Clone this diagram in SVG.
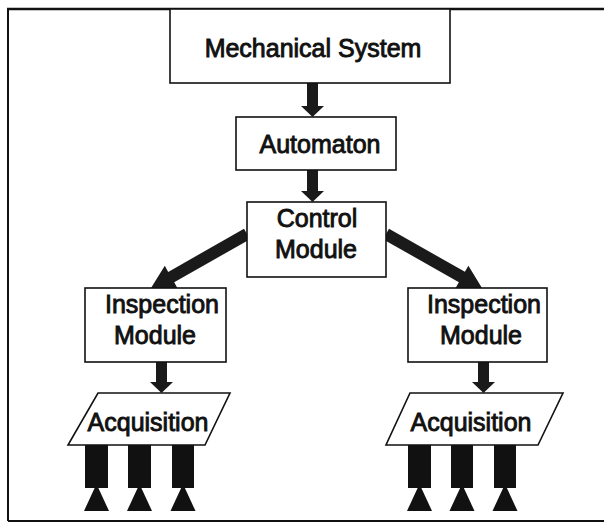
<svg xmlns="http://www.w3.org/2000/svg" width="604" height="524" viewBox="0 0 604 524">
<style>
.box{fill:#fff;stroke:#111;stroke-width:1.6}
.lbl{font-family:"Liberation Sans",Arial,sans-serif;font-size:25px;fill:#111;stroke:#111;stroke-width:0.9;text-anchor:middle}
.arr{fill:#1a1a1a}
.sens{fill:#111}
.frame{stroke:#111;fill:none}
</style>
<rect width="604" height="524" fill="#fff"/>
<g id="frame">
<line class="frame" x1="7" y1="9" x2="604" y2="9" stroke-width="2.5"/>
<line class="frame" x1="8" y1="9" x2="8" y2="521" stroke-width="2"/>
<line class="frame" x1="8" y1="521" x2="604" y2="521" stroke-width="2"/>
</g>
<g id="connectors">
<polygon class="arr" points="307,83 318,83 318,106 324,106 312.5,117 301,106 307,106"/>
<polygon class="arr" points="307,170 318,170 318,191 324,191 312.5,202 301,191 307,191"/>
<polygon class="arr" points="244,228.8 168.2,271.9 164.8,265.8 151,288 177.6,288.4 174.2,282.3 250,239.2"/>
<polygon class="arr" points="389,228.8 464.9,271.8 468.4,265.7 482,288 455.4,288.3 458.9,282.2 383,239.2"/>
<polygon class="arr" points="156,362 167,362 167,382 173,382 161.5,393 150,382 156,382"/>
<polygon class="arr" points="478,362 489,362 489,382 495,382 483.5,393 472,382 478,382"/>
</g>
<g id="mechanical-system">
<rect class="box" x="170" y="9" width="280" height="74"/>
<text class="lbl" x="313" y="57">Mechanical System</text>
</g>
<g id="automaton">
<rect class="box" x="236" y="117" width="160" height="53"/>
<text class="lbl" x="320" y="153">Automaton</text>
</g>
<g id="control-module">
<rect class="box" x="247" y="202" width="139" height="75"/>
<text class="lbl" x="317" y="227">Control</text>
<text class="lbl" x="316" y="258">Module</text>
</g>
<g id="inspection-left">
<rect class="box" x="85" y="288" width="141" height="74"/>
<text class="lbl" x="162" y="313">Inspection</text>
<text class="lbl" x="155" y="344">Module</text>
</g>
<g id="inspection-right">
<rect class="box" x="408" y="288" width="139" height="74"/>
<text class="lbl" x="484" y="313">Inspection</text>
<text class="lbl" x="481" y="344">Module</text>
</g>
<g id="acquisition-left">
<polygon class="box" points="98,393 230,393 205,445 68,445"/>
<text class="lbl" x="148" y="431">Acquisition</text>
</g>
<g id="acquisition-right">
<polygon class="box" points="410,393 563,393 538,445 386,445"/>
<text class="lbl" x="471" y="431">Acquisition</text>
</g>
<g id="sensors-left">
<rect class="sens" x="85" y="445" width="23" height="43"/>
<rect class="sens" x="128" y="445" width="23" height="43"/>
<rect class="sens" x="172" y="445" width="22" height="43"/>
<polygon class="sens" points="96.5,484 109,511 84,511"/>
<polygon class="sens" points="139.5,484 152,511 127,511"/>
<polygon class="sens" points="183,484 195.5,511 170.5,511"/>
</g>
<g id="sensors-right">
<rect class="sens" x="408" y="445" width="23" height="43"/>
<rect class="sens" x="451" y="445" width="22" height="43"/>
<rect class="sens" x="494" y="445" width="22" height="43"/>
<polygon class="sens" points="419.5,484 432,511 407,511"/>
<polygon class="sens" points="462,484 474.5,511 449.5,511"/>
<polygon class="sens" points="505,484 517.5,511 492.5,511"/>
</g>
</svg>
